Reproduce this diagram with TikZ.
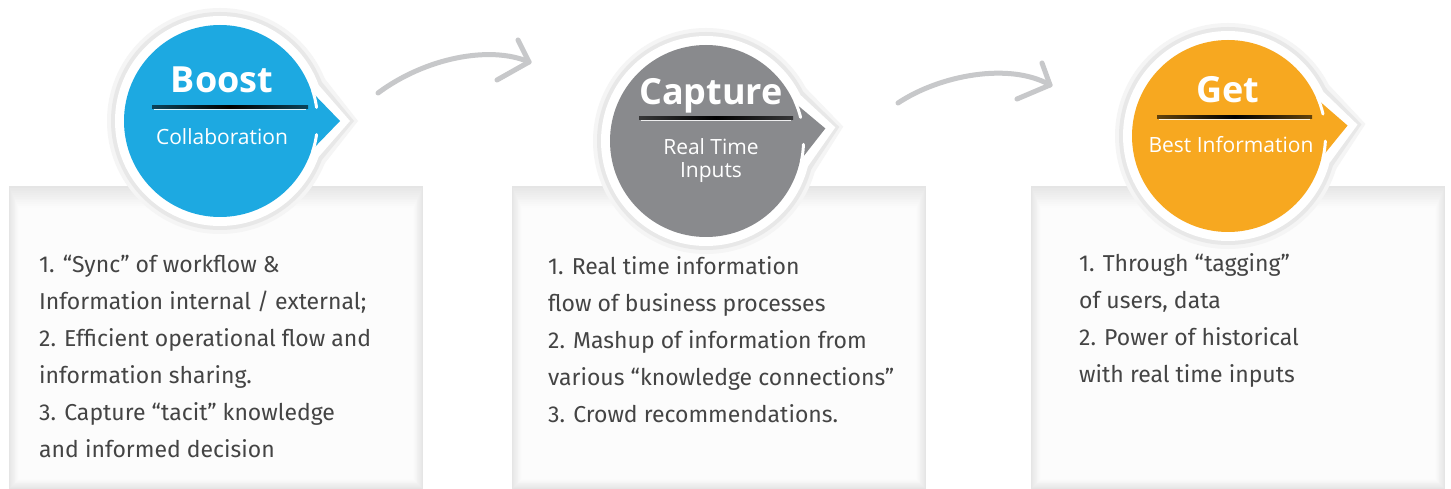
\documentclass[tikz,border=0pt]{standalone}
\usepackage{fontspec}
\setmainfont{Open Sans}
\newfontfamily\bodyfont{Fira Sans}
\definecolor{cblue}{HTML}{1DA9E1}
\definecolor{cgray}{HTML}{898A8D}
\definecolor{corange}{HTML}{F7A820}
\definecolor{txt}{HTML}{444444}
\definecolor{arrowc}{HTML}{C7C8CA}
\tikzset{
  body/.style={font=\bodyfont\fontsize{23}{27}\selectfont, text=txt, inner sep=0pt, anchor=base west},
  ttl/.style={font=\bfseries\fontsize{36}{40}\selectfont, text=white, inner sep=0pt, anchor=base},
  sub/.style={font=\fontsize{21}{25}\selectfont, text=white, inner sep=0pt, anchor=base},
  curvearrow/.style={draw=arrowc, line width=5pt, line cap=round, line join=round},
}
\newcommand\panelbox[2]{%
  \foreach \i in {0,...,12}{%
    \pgfmathsetmacro\cc{10-0.75*\i}%
    \fill[black!\cc] (#1+0.8*\i,186+1.8*\i) rectangle (#2-0.8*\i,489-0.8*\i);}}
% #1 cx, #2 cy, #3 axis angle, #4 colour
\newcommand\badge[4]{%
  \begin{scope}[shift={(#1,#2)}]
    \fill[black!4] (0,0) circle (113pt);
    \fill[black!4] (#3-22:113pt) -- (#3:138pt) -- (#3+22:113pt) -- cycle;
    \fill[black!9] (0,0) circle (109pt);
    \fill[black!9] (#3-21:109pt) -- (#3:134pt) -- (#3+21:109pt) -- cycle;
    \fill[white] (0,0) circle (105pt);
    \fill[white] (#3-20:105pt) -- (#3:130pt) -- (#3+20:105pt) -- cycle;
    \fill[#4] (0,0) circle (96pt);
    \fill[#4] (#3-18:96pt) -- (#3:120pt) -- (#3+18:96pt) -- cycle;
    \draw[white, line width=3pt, line cap=round] (#3+18:97.5pt) arc[start angle=#3+18, end angle=#3+8, radius=97.5pt];
    \draw[white, line width=3pt, line cap=round] (#3-18:97.5pt) arc[start angle=#3-18, end angle=#3-8, radius=97.5pt];
  \end{scope}}
\newcommand\sepline[4]{% x1, x2, y, colour
  \shade[left color=#4!40!black, right color=#4!40!black, middle color=black] (#1,#3-1.5) rectangle (#2,#3+1.2);
  \fill[white, opacity=0.85] (#1+2,#3+1.6) rectangle (#2-2,#3+2.8);}
\begin{document}
\begin{tikzpicture}[x=1pt,y=-1pt]
\useasboundingbox (0,0) rectangle (1451,489);
\fill[white] (0,0) rectangle (1451,489);
% panels
\panelbox{9}{423}
\panelbox{512}{926}
\panelbox{1031}{1445}
% badges
\badge{220}{121}{0}{cblue}
\badge{706}{141}{6}{cgray}
\badge{1228}{136}{5}{corange}
% titles
\node[ttl] (boost) at (222,93) {Boost};
\sepline{152}{308}{107.5}{cblue}
\node[sub] (collab) at (222,145) {Collaboration};
\node[ttl] (capture) at (711,105) {Capture};
\sepline{639}{793}{118}{cgray}
\node[sub] (realtime) at (711,155) {Real Time};
\node[sub] (inputs) at (711,178) {Inputs};
\node[ttl] (get) at (1228,103) {Get};
\sepline{1157}{1312}{117}{corange}
\node[sub] (bestinfo) at (1231,153) {Best Information};
% arrows
\coordinate (a1s) at (378,93);
\coordinate (a1t) at (529,62);
\coordinate (a1u) at (518,40);
\coordinate (a1l) at (497,80);
\draw[curvearrow] (a1s) .. controls (425,58) and (490,45) .. (a1t);
\draw[curvearrow] (a1u) -- (a1t) -- (a1l);
\coordinate (a2s) at (898,103);
\coordinate (a2t) at (1050,85);
\coordinate (a2u) at (1042,63);
\coordinate (a2l) at (1017,99);
\draw[curvearrow] (a2s) .. controls (940,75) and (1010,62) .. (a2t);
\draw[curvearrow] (a2u) -- (a2t) -- (a2l);
% body text
\foreach \t [count=\i] in {1. “Sync” of workflow \&, Information internal / external;, 2. Efficient operational flow and, information sharing., 3. Capture “tacit” knowledge, and informed decision}
  \node[body] (ta\i) at (39,272+37*\i-37) {\t};
\foreach \t [count=\i] in {1. Real time information, flow of business processes, 2. Mashup of information from, various “knowledge connections”, 3. Crowd recommendations.}
  \node[body] (tb\i) at (548,274+37*\i-37) {\t};
\foreach \t [count=\i] in {1. Through “tagging”, {of users, data}, 2. Power of historical, with real time inputs}
  \node[body] (tc\i) at (1079,271+37*\i-37) {\t};
\end{tikzpicture}
\end{document}
